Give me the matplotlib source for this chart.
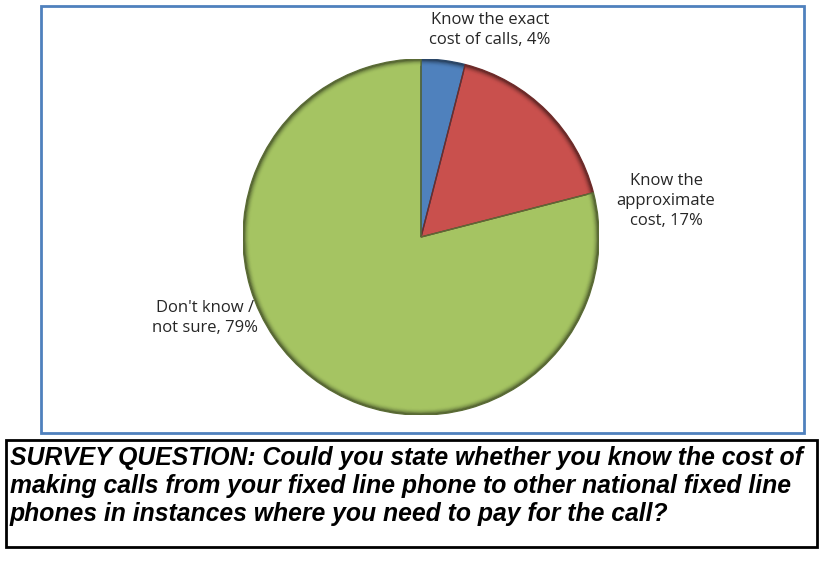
import matplotlib.pyplot as plt
from matplotlib.patches import Rectangle, Wedge
from matplotlib.colors import to_rgb

# Survey answers, clockwise from 12 o'clock
labels = ['Know the exact\ncost of calls', 'Know the\napproximate\ncost', "Don't know /\nnot sure"]
shares = [4, 17, 79]
colors = ['#4F81BD', '#C9504D', '#A5C462']

question = ('SURVEY QUESTION: Could you state whether you know the cost of\n'
            'making calls from your fixed line phone to other national fixed line\n'
            'phones in instances where you need to pay for the call?')

W, H = 820, 565
fig = plt.figure(figsize=(W / 100, H / 100), dpi=100)


def fx(px):
    return px / W


def fy(py):
    return 1 - py / H


def shade(c, f):
    return tuple(v * f for v in to_rgb(c))


# Chart frame and question box
fig.patches.append(Rectangle((fx(41), fy(433)), fx(804) - fx(41), fy(6) - fy(433),
                             transform=fig.transFigure, fill=False,
                             edgecolor='#4F81BD', linewidth=2))
fig.patches.append(Rectangle((fx(6), fy(547)), fx(817) - fx(6), fy(440) - fy(547),
                             transform=fig.transFigure, fill=False,
                             edgecolor='black', linewidth=2))

# Pie
cx, cy, r = 421, 237, 178
ax = fig.add_axes([fx(cx - r), fy(cy + r), 2 * r / W, 2 * r / H])

wedges, _ = ax.pie(shares, colors=colors, startangle=90, counterclock=False,
                   radius=1.0, wedgeprops=dict(edgecolor='none'))
ax.set_xlim(-1.0, 1.0)
ax.set_ylim(-1.0, 1.0)
ax.set_aspect('equal')
ax.axis('off')

# Bevel: thin darker band at the rim and darker slice edges
for w, c in zip(wedges, colors):
    n = 8
    for k in range(n):
        t = (k + 1) / n
        rad = 0.965 + 0.035 * t
        ax.add_patch(Wedge((0, 0), rad, w.theta1, w.theta2, width=0.035 / n + 0.003,
                           facecolor=shade(c, 1 - 0.5 * t ** 2), edgecolor='none'))
    ax.add_patch(Wedge((0, 0), 1.0, w.theta1, w.theta2, width=1.0,
                       facecolor='none', edgecolor=shade(c, 0.55), linewidth=1.0))

# Data labels
label_pos = [(490, 30), (666, 201), (205, 318)]
for (lx, ly), lab, v in zip(label_pos, labels, shares):
    fig.text(fx(lx), fy(ly), f'{lab}, {v}%', ha='center', va='center',
             fontsize=12, family='Open Sans', color='#262626', linespacing=1.3)

# Clipped caption glyph at the top edge
fig.text(fx(44), fy(-7), 'g', fontsize=14, family='Liberation Sans', color='black',
         va='baseline')

# Survey question
fig.text(fx(10), fy(486), question, ha='left', va='center', fontsize=17.8,
         family='Liberation Sans', weight='bold', style='italic',
         linespacing=1.22, color='black')

fig.savefig('out.png', dpi=100)
